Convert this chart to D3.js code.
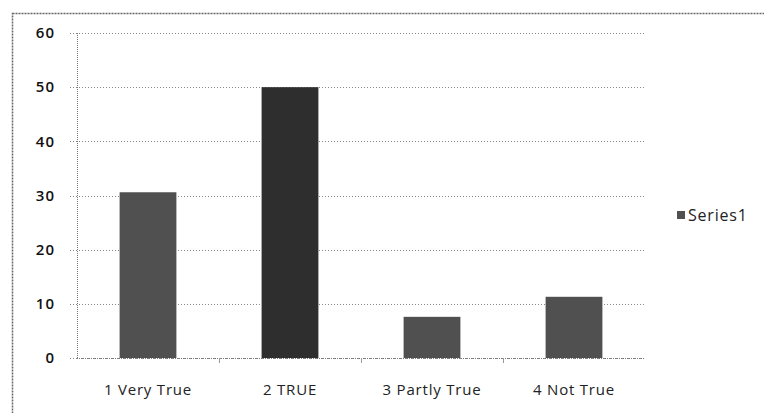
<!DOCTYPE html>
<html>
<head>
<meta charset="utf-8">
<script src="https://cdn.jsdelivr.net/npm/d3@7"></script>
<style>
  html, body { margin: 0; padding: 0; background: #fff; }
  svg { display: block; }
</style>
</head>
<body>
<svg id="chart" width="764" height="413"></svg>
<script>
const categories = ["1 Very True", "2 TRUE", "3 Partly True", "4 Not True"];
const values = [30.6, 50.0, 7.6, 11.3];
const yTicks = [0, 10, 20, 30, 40, 50, 60];
const seriesName = "Series1";

const svg = d3.select("#chart");
const W = 764, H = 413;
const plot = { left: 77, right: 645, top: 33, bottom: 358 };
const font = "'Open Sans', Lato, sans-serif";

// outer frame
svg.append("rect")
  .attr("x", 12.5).attr("y", 13.5)
  .attr("width", W + 20).attr("height", H + 20)
  .attr("fill", "none").attr("stroke", "#666")
  .attr("stroke-width", 1.5).attr("stroke-dasharray", "2,1");

const x = d3.scaleBand().domain(categories).range([plot.left, plot.right]).paddingInner(0.6).paddingOuter(0.3);
const xOuter = d3.scaleBand().domain(categories).range([plot.left, plot.right]);
const y = d3.scaleLinear().domain([0, 60]).range([plot.bottom, plot.top]);

// gridlines
svg.append("g").selectAll("line").data(yTicks).join("line")
  .attr("x1", plot.left - 7).attr("x2", plot.right)
  .attr("y1", d => Math.round(y(d)) + 0.5).attr("y2", d => Math.round(y(d)) + 0.5)
  .attr("stroke", "#888").attr("stroke-width", 1).attr("stroke-dasharray", "1,2");

// y axis line
svg.append("line")
  .attr("x1", plot.left + 0.5).attr("x2", plot.left + 0.5)
  .attr("y1", plot.top).attr("y2", plot.bottom)
  .attr("stroke", "#777").attr("stroke-dasharray", "1,1");

// y tick labels
svg.append("g").selectAll("text").data(yTicks).join("text")
  .attr("x", 55).attr("y", d => y(d))
  .attr("dy", "0.35em").attr("text-anchor", "end")
  .attr("font-family", font).attr("font-size", 15).attr("font-weight", 600)
  .attr("letter-spacing", 1)
  .attr("fill", "#111").text(d => d);

// bars
svg.append("g").selectAll("rect").data(values).join("rect")
  .attr("x", (d, i) => x(categories[i]))
  .attr("width", x.bandwidth())
  .attr("y", d => y(d))
  .attr("height", d => y(0) - y(d))
  .attr("fill", (d, i) => i === 1 ? "#2e2e2e" : "#505050");

// x axis baseline
svg.append("line")
  .attr("x1", plot.left).attr("x2", plot.right)
  .attr("y1", plot.bottom + 0.5).attr("y2", plot.bottom + 0.5)
  .attr("stroke", "#777").attr("stroke-dasharray", "1,1");

// category boundary ticks
svg.append("g").selectAll("line").data(categories.slice(1)).join("line")
  .attr("x1", d => xOuter(d) + 0.5).attr("x2", d => xOuter(d) + 0.5)
  .attr("y1", plot.bottom).attr("y2", plot.bottom + 5)
  .attr("stroke", "#999");

// x labels
svg.append("g").selectAll("text").data(categories).join("text")
  .attr("x", d => xOuter(d) + xOuter.bandwidth() / 2)
  .attr("y", 395)
  .attr("text-anchor", "middle")
  .attr("font-family", font).attr("font-size", 15)
  .attr("letter-spacing", 0.8)
  .attr("fill", "#222").text(d => d);

// legend
const lg = svg.append("g").attr("transform", "translate(677,211)");
lg.append("rect").attr("width", 8).attr("height", 8).attr("fill", "#505050");
lg.append("text").attr("x", 11).attr("y", 4).attr("dy", "0.35em")
  .attr("font-family", font).attr("font-size", 16).attr("letter-spacing", 0.8)
  .attr("fill", "#222")
  .text(seriesName);
</script>
</body>
</html>
